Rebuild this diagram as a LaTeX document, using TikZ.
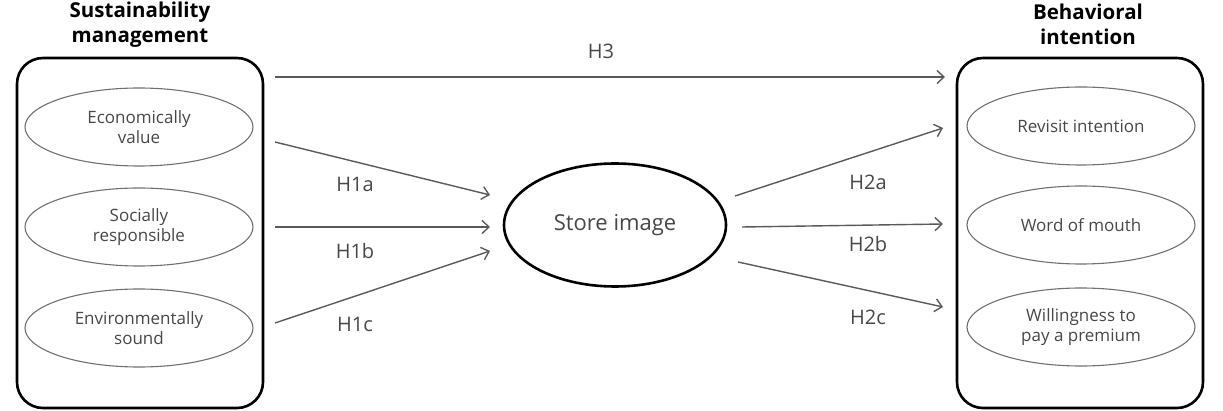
\documentclass[tikz,border=0pt]{standalone}
\usepackage{fontspec}
\setmainfont{Open Sans}
\usetikzlibrary{shapes.geometric,arrows.meta}
\definecolor{elgray}{HTML}{707070}
\definecolor{txgray}{HTML}{474747}
\definecolor{argray}{HTML}{5A5A5A}
\begin{document}
\begin{tikzpicture}[x=1pt,y=-1pt,
 grp/.style={draw=black,line width=2.6pt,rounded corners=26pt,minimum width=246pt,minimum height=350pt,inner sep=0pt},
 ttl/.style={align=center,inner sep=0pt,font=\fontsize{20.5}{25}\selectfont\bfseries},
 fac/.style={ellipse,draw=elgray,line width=1.1pt,minimum width=228pt,minimum height=78pt,inner sep=0pt,align=center,text=txgray,font=\fontsize{17}{20}\selectfont},
 hyp/.style={draw=argray,line width=1.4pt,-{Straight Barb[length=7pt,width=13pt]}},
 hlab/.style={inner sep=0pt,text=txgray,font=\fontsize{20}{22}\selectfont}]
\useasboundingbox (0,0) rectangle (1223,411);
\node[grp] (sm) at (140,233) {};
\node[grp] (bi) at (1080,233) {};
\node[ttl] (smt) at (140,25) {Sustainability\\management};
\node[ttl] (bit) at (1088,24) {Behavioral\\intention};
\node[fac] (eco) at (139,127) {Economically\\value};
\node[fac] (soc) at (139,227) {Socially\\responsible};
\node[fac] (env) at (139,328) {Environmentally\\sound};
\node[fac] (rev) at (1081,126) {Revisit intention};
\node[fac] (wom) at (1081,225) {Word of mouth};
\node[fac] (wtp) at (1081,327) {Willingness to\\pay a premium};
\node[ellipse,draw=black,line width=2.6pt,minimum width=222pt,minimum height=123pt,inner sep=0pt,text=txgray,font=\fontsize{22}{24}\selectfont] (store) at (615,225) {Store image};
\coordinate (h3s) at (275,77);
\coordinate (h3e) at (945,77);
\draw[hyp] (h3s) -- (h3e);
\node[hlab] (h3) at (601,51) {H3};
\foreach \nm/\sy/\ey/\ly in {a/142/195/184,b/227/227/251,c/323/251/324}{
 \coordinate (h1\nm s) at (275,\sy);
 \coordinate (h1\nm e) at (490,\ey);
 \draw[hyp] (h1\nm s) -- (h1\nm e);
 \node[hlab] (h1\nm) at (355,\ly) {H1\nm};
}
\foreach \nm/\sx/\sy/\ey/\ly in {a/735/196/128/182,b/742/227/224/244,c/738/262/307/317}{
 \coordinate (h2\nm s) at (\sx,\sy);
 \coordinate (h2\nm e) at (943,\ey);
 \draw[hyp] (h2\nm s) -- (h2\nm e);
 \node[hlab] (h2\nm) at (868,\ly) {H2\nm};
}
\end{tikzpicture}
\end{document}
